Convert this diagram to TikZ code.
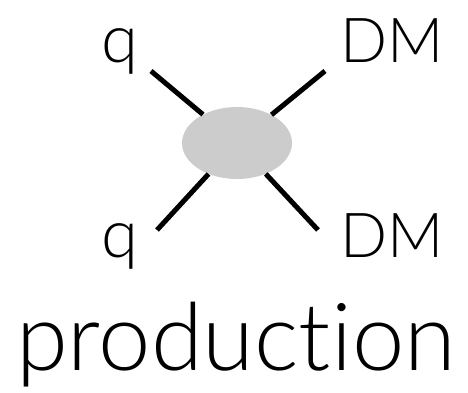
\documentclass[tikz,border=0pt]{standalone}
\usepackage{fontspec}
\setmainfont{Lato}[UprightFont=* Light, Ligatures={NoCommon}]
\usetikzlibrary{shapes.geometric, positioning, calc}

\begin{document}
\begin{tikzpicture}[x=1pt, y=-1pt]
  \tikzset{
    leg/.style={line width=5pt, black},
    lab/.style={anchor=base west, inner sep=0pt, font=\fontsize{62}{62}\selectfont},
    blobshape/.style={ellipse, fill=gray!40, minimum width=110pt, minimum height=72pt, inner sep=0pt}
  }
  \useasboundingbox (0,0) rectangle (468,392);

  % Blob
  \node[blobshape] (blob) at (237,143) {};

  % Legs
  \coordinate (qin1) at (151,71);
  \coordinate (qin2) at (157,230);
  \coordinate (dm1) at (325,71);
  \coordinate (dm2) at (318,230);
  \foreach \c in {qin1, qin2, dm1, dm2} {
    \draw[leg] (\c) -- (blob);
  }

  % Labels
  \node[lab, font=\fontsize{67}{67}\selectfont] (lq1) at (101,62) {q};
  \node[lab, font=\fontsize{67}{67}\selectfont] (lq2) at (101,257) {q};
  \node[lab] (ldm1) at (340,62) {DM};
  \node[lab] (ldm2) at (340,257) {DM};

  % Caption
  \node[anchor=base, inner sep=0pt, font=\fontsize{94}{94}\selectfont] (cap) at (236,370) {production};
\end{tikzpicture}
\end{document}
